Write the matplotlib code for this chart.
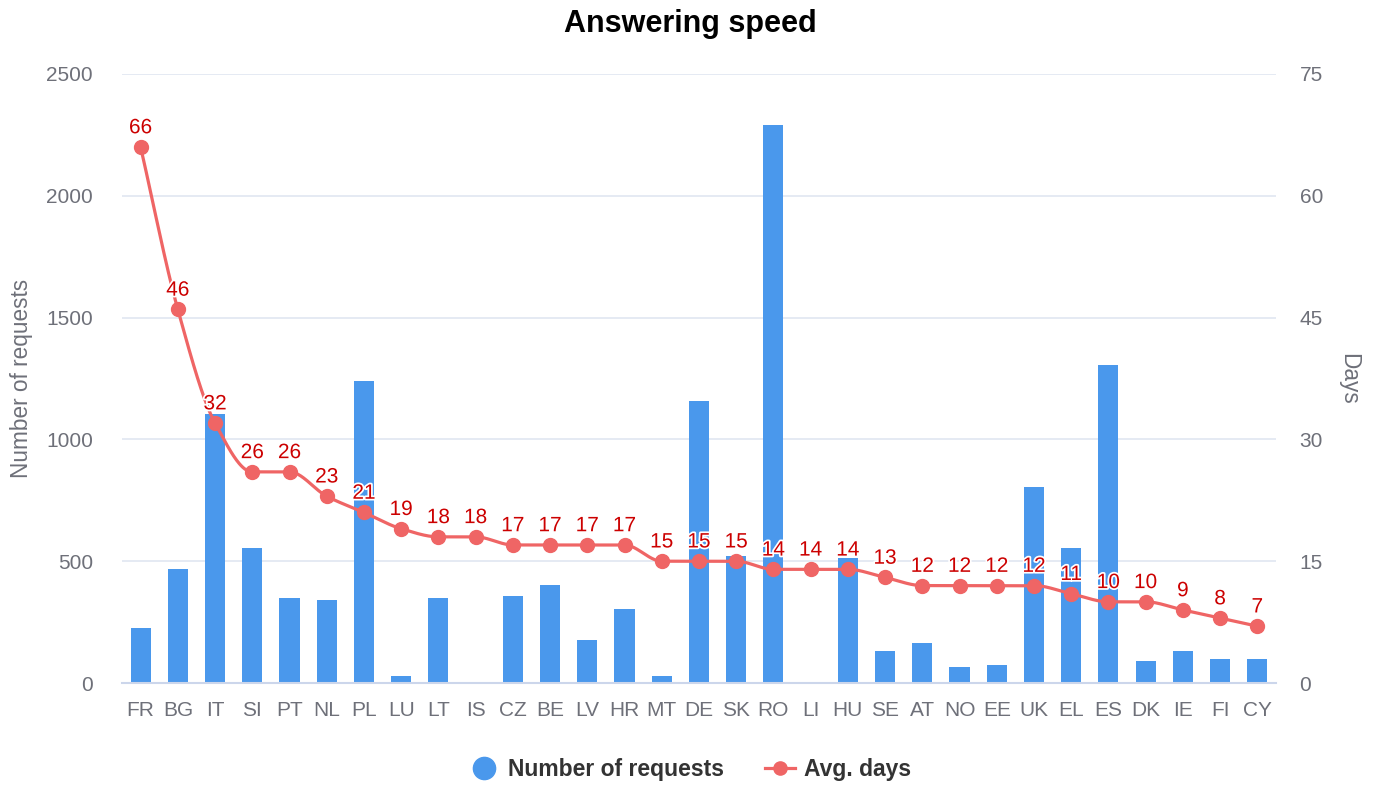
import numpy as np
import matplotlib
matplotlib.use("Agg")
import matplotlib.pyplot as plt
from matplotlib.lines import Line2D
import matplotlib.patheffects as pe

countries = ["FR", "BG", "IT", "SI", "PT", "NL", "PL", "LU", "LT", "IS", "CZ", "BE", "LV", "HR", "MT",
             "DE", "SK", "RO", "LI", "HU", "SE", "AT", "NO", "EE", "UK", "EL", "ES", "DK", "IE", "FI", "CY"]
requests = [225, 468, 1104, 554, 349, 341, 1240, 29, 349, 0, 357, 402, 177, 304, 29,
            1158, 521, 2291, 0, 513, 131, 164, 66, 74, 805, 554, 1305, 90, 131, 99, 99]
avg_days = [66, 46, 32, 26, 26, 23, 21, 19, 18, 18, 17, 17, 17, 17, 15,
            15, 15, 14, 14, 14, 13, 12, 12, 12, 12, 11, 10, 10, 9, 8, 7]

plt.rcParams['font.family'] = ['Liberation Sans', 'DejaVu Sans']

BAR_C = "#4a98ec"
LINE_C = "#ef6565"
LABEL_C = "#cc0000"
TICK_C = "#6e7079"

def pchip(x, y, xs):
    x = np.asarray(x, float); y = np.asarray(y, float)
    h = np.diff(x); d = np.diff(y) / h
    n = len(x); m = np.zeros(n)
    for k in range(1, n - 1):
        if d[k - 1] * d[k] > 0:
            w1 = 2 * h[k] + h[k - 1]; w2 = h[k] + 2 * h[k - 1]
            m[k] = (w1 + w2) / (w1 / d[k - 1] + w2 / d[k])
    m[0] = d[0]; m[-1] = d[-1]
    idx = np.clip(np.searchsorted(x, xs) - 1, 0, n - 2)
    t = (xs - x[idx]) / h[idx]
    h00 = 2 * t**3 - 3 * t**2 + 1; h10 = t**3 - 2 * t**2 + t
    h01 = -2 * t**3 + 3 * t**2; h11 = t**3 - t**2
    return h00 * y[idx] + h10 * h[idx] * m[idx] + h01 * y[idx + 1] + h11 * h[idx] * m[idx + 1]

fig = plt.figure(figsize=(13.8, 7.86), dpi=100)
ax = fig.add_axes([0.0884, 0.131, 0.8362, 0.775])
ax2 = ax.twinx()

x = np.arange(len(countries))
ax.bar(x, requests, width=0.54, color=BAR_C, zorder=2)
ax.set_xlim(-0.5, len(countries) - 0.5)
ax.set_ylim(0, 2500)
ax.set_yticks(np.arange(0, 2501, 500))
ax.set_xticks(x)
ax.set_xticklabels(countries)
ax.grid(axis='y', color='#e0e6f1', linewidth=1.2, zorder=0)
ax.set_axisbelow(True)
for s in ['top', 'right', 'left']:
    ax.spines[s].set_visible(False)
ax.spines['bottom'].set_color('#ccd6eb')
ax.spines['bottom'].set_linewidth(1.5)
ax.tick_params(axis='both', length=0, labelsize=15, labelcolor=TICK_C)
ax.tick_params(axis='x', pad=13)
ax.tick_params(axis='y', pad=21)
ax.set_ylabel("Number of requests", fontsize=16.3, color=TICK_C, labelpad=9)

ax2.set_ylim(0, 75)
ax2.set_yticks(np.arange(0, 76, 15))
for s in ['top', 'right', 'left', 'bottom']:
    ax2.spines[s].set_visible(False)
ax2.tick_params(axis='y', length=0, labelsize=15, labelcolor=TICK_C, pad=17)
ax2.set_ylabel("Days", fontsize=16.3, color=TICK_C, rotation=-90, labelpad=27)

xs = np.linspace(0, len(countries) - 1, 1200)
ax2.plot(xs, pchip(x, avg_days, xs), color=LINE_C, linewidth=2.3, zorder=3)
ax2.plot(x, avg_days, 'o', color=LINE_C, markersize=10, zorder=4)
for xi, v in zip(x, avg_days):
    ax2.annotate(str(v), (xi, v), xytext=(0, 7), textcoords='offset points',
                 ha='center', va='bottom', fontsize=15, color=LABEL_C, zorder=5,
                 path_effects=[pe.withStroke(linewidth=2.5, foreground='white')])

fig.text(0.5, 0.970, "Answering speed", ha='center', va='center', fontsize=22,
         fontweight='bold', color='black')

handles = [Line2D([0], [0], marker='o', color='none', markerfacecolor=BAR_C, markeredgecolor=BAR_C,
                  markersize=16),
           Line2D([0], [0], marker='o', color=LINE_C, linewidth=2.3, markersize=9.5)]
leg = fig.legend(handles, ["Number of requests", "Avg. days"], loc='center',
                 bbox_to_anchor=(0.5, 0.021), ncol=2, frameon=False,
                 prop={'weight': 'bold', 'size': 16.5}, handlelength=1.3, columnspacing=1.8,
                 handletextpad=0.4)
for t in leg.get_texts():
    t.set_color('#333333')

fig.savefig("out.png", dpi=100)
